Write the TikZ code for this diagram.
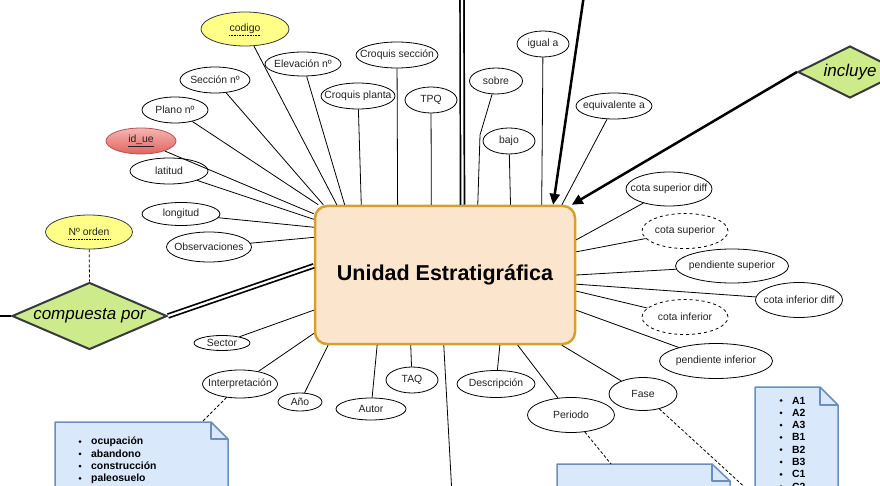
\documentclass[tikz,border=0pt]{standalone}
\usepackage{fontspec}
\setmainfont{Liberation Sans}
\usetikzlibrary{shapes.geometric,arrows.meta,calc}
\definecolor{peach}{HTML}{FCE5CD}
\definecolor{gold}{HTML}{D6A02E}
\definecolor{ylw}{HTML}{FFFF88}
\definecolor{grn}{HTML}{CDEB8B}
\definecolor{dkg}{HTML}{36393D}
\definecolor{notefill}{HTML}{DAE8FC}
\definecolor{notedraw}{HTML}{6C8EBF}
\definecolor{redtop}{HTML}{F6B5B2}
\definecolor{redbot}{HTML}{E0645F}
\definecolor{redline}{HTML}{B85450}
\definecolor{txt}{HTML}{222222}
\begin{document}
\begin{tikzpicture}[x=1pt,y=-1pt,
  every node/.style={text=txt},
  attr/.style={ellipse,draw=black,line width=0.8pt,fill=white,inner sep=-8pt,font=\fontsize{10.4}{12}\selectfont},
  keyattr/.style={attr,fill=ylw,draw=dkg},
  derived/.style={attr,dashed},
  rel/.style={diamond,draw=dkg,line width=2pt,fill=grn,inner sep=0pt,font=\itshape\fontsize{17}{20}\selectfont,text=black},
  ent/.style={rectangle,rounded corners=12pt,draw=gold,line width=2.5pt,fill=peach,font=\bfseries\fontsize{21.5}{26}\selectfont,text=black},
  link/.style={line width=0.8pt,draw=black},
  dbl/.style={line width=1.7pt,double=white,double distance=2.2pt},
  arr/.style={line width=2.5pt,-{Triangle[length=11pt,width=10pt]}},
  notelink/.style={line width=0.8pt,dash pattern=on 3pt off 2pt},
  note/.style={fill=notefill,draw=notedraw,line width=1.5pt,line join=round},
  listitem/.style={anchor=west,font=\bfseries\fontsize{10.4}{12}\selectfont,inner sep=0pt,text=black}
]
\useasboundingbox (0,0) rectangle (880,486);
\fill[white] (0,0) rectangle (880,486);

% notes
\path[note] (55,422) -- (211,422) -- (228,439) -- (228,500) -- (55,500) -- cycle;
\draw[notedraw,line width=1.5pt,line join=round] (211,422) -- (211,439) -- (228,439);
\coordinate (n1top) at (202,422);
\foreach \t [count=\i from 0] in {ocupación,abandono,construcción,paleosuelo}{
  \fill (80,441.5+12.3*\i) circle (1.5);
  \node[listitem] at (91,441.5+12.3*\i) {\t};
}
\path[note] (557,464) -- (712,464) -- (730,481) -- (730,500) -- (557,500) -- cycle;
\draw[notedraw,line width=1.5pt,line join=round] (712,464) -- (712,481) -- (730,481);
\coordinate (n2top) at (611,464);
\path[note] (755,387) -- (820,387) -- (838,405) -- (838,500) -- (755,500) -- cycle;
\draw[notedraw,line width=1.5pt,line join=round] (820,387) -- (820,405) -- (838,405);
\foreach \t [count=\i from 0] in {A1,A2,A3,B1,B2,B3,C1,C2}{
  \fill (781,400.5+12.3*\i) circle (1.5);
  \node[listitem] at (792,400.5+12.3*\i) {\t};
}
\coordinate (n3end) at (750,492);

% entity
\node[ent,minimum width=260pt,minimum height=138pt] (ue) at (445,275) {Unidad Estratigráfica};

% attributes
\node[keyattr,minimum width=88pt,minimum height=34pt] (codigo) at (245,29) {codigo};
\draw[densely dotted,line width=0.6pt] ($(codigo)+(-16,6)$) -- ($(codigo)+(16,6)$);
\node[attr,minimum width=70pt,minimum height=26pt] (seccion) at (215,80) {Sección nº};
\node[attr,minimum width=76pt,minimum height=24pt] (elev) at (303,64) {Elevación nº};
\node[attr,minimum width=82pt,minimum height=26pt] (csec) at (397,55) {Croquis sección};
\node[attr,minimum width=74pt,minimum height=26pt] (cpla) at (358,96) {Croquis planta};
\node[attr,minimum width=52pt,minimum height=26pt] (tpq) at (431,100) {TPQ};
\node[attr,minimum width=66pt,minimum height=26pt] (plano) at (175,110) {Plano nº};
\node[attr,draw=redline,top color=redtop,bottom color=redbot,minimum width=70pt,minimum height=26pt] (idue) at (141,141) {\underline{id\_ue}};
\node[attr,minimum width=78pt,minimum height=26pt] (lat) at (169,171) {latitud};
\node[attr,minimum width=78pt,minimum height=23pt] (lon) at (181,214) {longitud};
\node[attr,minimum width=85pt,minimum height=30pt] (obs) at (209,247) {Observaciones};
\node[keyattr,minimum width=87pt,minimum height=34pt] (norden) at (89,232) {Nº orden};
\draw[densely dotted,line width=0.6pt] ($(norden)+(-21,7)$) -- ($(norden)+(21,7)$);
\node[attr,minimum width=53pt,minimum height=26pt] (sobre) at (496,81) {sobre};
\node[attr,minimum width=52pt,minimum height=26pt] (igual) at (543,44) {igual a};
\node[attr,minimum width=52pt,minimum height=26pt] (bajo) at (509,141) {bajo};
\node[attr,minimum width=76pt,minimum height=26pt] (equiv) at (614,106) {equivalente a};
\node[attr,minimum width=86pt,minimum height=34pt] (csd) at (669,189) {cota superior diff};
\node[derived,minimum width=86pt,minimum height=35pt] (cs) at (685,231) {cota superior};
\node[attr,minimum width=113pt,minimum height=34pt] (ps) at (732,266) {pendiente superior};
\node[attr,minimum width=87pt,minimum height=35pt] (cid) at (799,300) {cota inferior diff};
\node[derived,minimum width=86pt,minimum height=35pt] (ci) at (685,317) {cota inferior};
\node[attr,minimum width=113pt,minimum height=35pt] (pinf) at (716,361) {pendiente inferior};
\node[attr,minimum width=68pt,minimum height=33pt] (fase) at (643,394) {Fase};
\node[attr,minimum width=87pt,minimum height=35pt] (periodo) at (571,415) {Periodo};
\node[attr,minimum width=78pt,minimum height=27pt] (desc) at (496,384) {Descripción};
\node[attr,minimum width=52pt,minimum height=26pt] (taq) at (412,380) {TAQ};
\node[attr,minimum width=70pt,minimum height=22pt] (autor) at (371,409) {Autor};
\node[attr,minimum width=44pt,minimum height=18pt] (anio) at (300,402) {Año};
\node[attr,minimum width=75pt,minimum height=28pt] (interp) at (240,384) {Interpretación};
\node[attr,minimum width=56pt,minimum height=15pt] (sector) at (222,343) {Sector};

% relationships
\node[rel,aspect=2.3,minimum width=155pt,minimum height=67pt] (comp) at (89.5,316) {compuesta por};
\node[rel,aspect=2,minimum width=104pt,minimum height=52pt] (incl) at (850,72) {incluye};

% attribute connectors
\draw[link] (codigo) -- (ue.147.9);
\draw[link] (seccion) -- (ue.150.3);
\draw[link] (elev) -- (ue.145.4);
\draw[link] (plano) -- (ue.151.5);
\draw[link] (idue) -- (ue.155.4);
\draw[link] (lat) -- (ue.157.8);
\draw[link] (lon) -- (ue.160.5);
\draw[link] (obs) -- (ue.164.9);
\draw[link] (cpla) -- (ue.140.6);
\draw[link] (csec) -- (ue.124.8);
\draw[link] (tpq) -- (ue.101.5);
\draw[link] (sobre) -- (480,135) -- (ue.65.8);
\draw[link] (bajo) -- (ue.47.2);
\draw[link] (igual) -- (ue.36.9);
\draw[link] (equiv) -- (ue.31.0);
\draw[link] (csd) -- (ue.15.1);
\draw[link] (cs) -- (ue.10.5);
\draw[link] (ps) -- (ue.0);
\draw[link] (cid) -- (ue.-4.0);
\draw[link] (ci) -- (ue.-7.9);
\draw[link] (pinf) -- (ue.-15.1);
\draw[link] (fase) -- (ue.-31.9);
\draw[link] (periodo) -- (ue.-44.2);
\draw[link] (desc) -- (ue.-52.5);
\draw[link] (taq) -- (ue.244.4);
\draw[link] (autor) -- (ue.226.3);
\draw[link] (anio) -- (ue.211.0);
\draw[link] (interp) -- (ue.204.8);
\draw[link] (sector) -- (ue.195.9);
\coordinate (botend) at (452,495);
\draw[link] (ue.269.2) -- (botend);

% relationship connectors
\coordinate (leftend) at (-5,316);
\draw[line width=2pt] (leftend) -- (comp.west);
\draw[dbl] (comp.east) -- (ue.176.0);
\draw[notelink] (norden) -- (comp.north);
\coordinate (topdbl) at (462,-5);
\draw[dbl] (topdbl) -- (ue.76.2);
\coordinate (toparr) at (584,-5);
\draw[arr] (toparr) -- (ue.33.1);
\draw[arr] (incl.west) -- (ue.29.5);

% note connectors
\draw[notelink] (interp) -- (n1top);
\draw[notelink] (periodo) -- (n2top);
\draw[notelink] (fase) -- (n3end);
\end{tikzpicture}
\end{document}
